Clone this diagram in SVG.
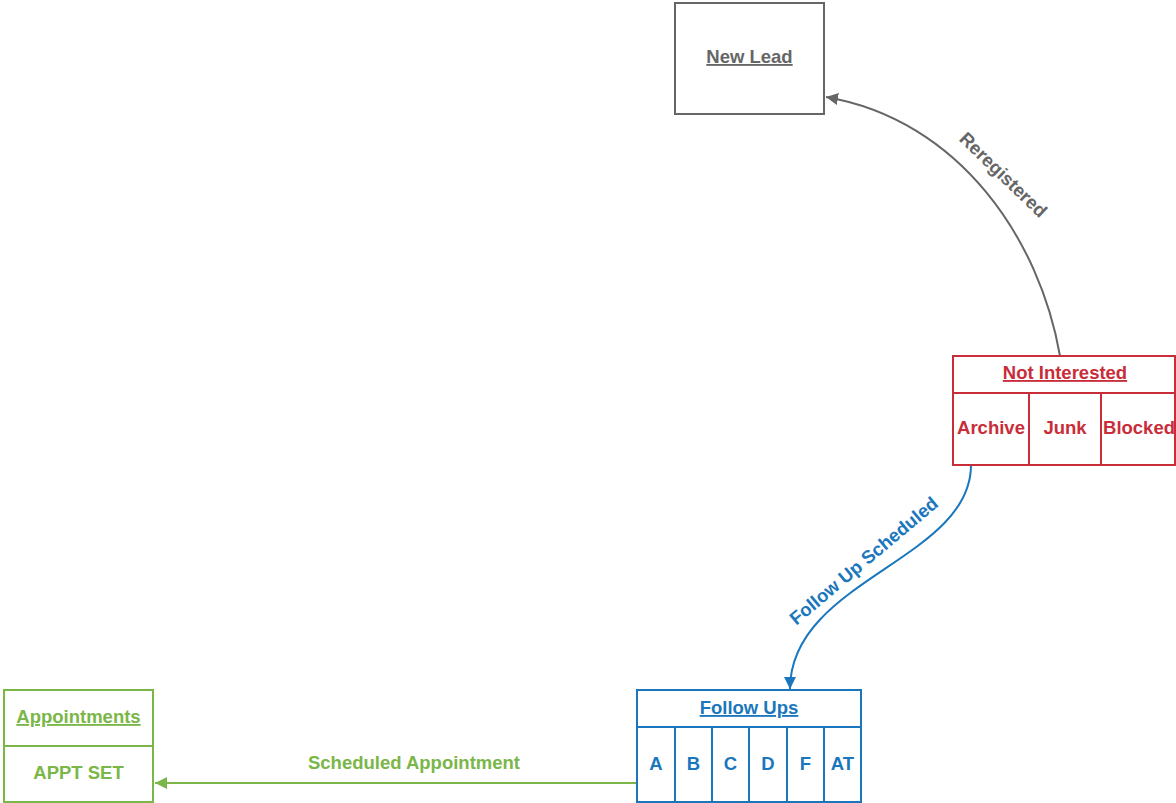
<svg xmlns="http://www.w3.org/2000/svg" width="1176" height="803" viewBox="0 0 1176 803">
<style>
text{font-family:"Liberation Sans",Arial,sans-serif;font-weight:bold;font-size:18.5px;text-anchor:middle}
.u{text-decoration:underline}
.box{fill:#fff;stroke-width:2}
.gray{fill:#666}.red{fill:#c92d39}.blue{fill:#1a77bd}.green{fill:#7ab648}
</style>
<defs>
<marker id="ag" viewBox="0 0 12 12" refX="12" refY="6" markerWidth="12" markerHeight="12" markerUnits="userSpaceOnUse" orient="auto"><path d="M0,0L12,6L0,12z" fill="#666"/></marker>
<marker id="ab" viewBox="0 0 12 12" refX="12" refY="6" markerWidth="12" markerHeight="12" markerUnits="userSpaceOnUse" orient="auto"><path d="M0,0L12,6L0,12z" fill="#1a77bd"/></marker>
<marker id="agr" viewBox="0 0 12 12" refX="12" refY="6" markerWidth="12" markerHeight="12" markerUnits="userSpaceOnUse" orient="auto"><path d="M0,0L12,6L0,12z" fill="#7ab648"/></marker>
</defs>
<rect width="1176" height="803" fill="#fff"/>
<g id="connectors" fill="none" stroke-width="2">
<path d="M1060,356 C1040,240 960,120 826,97" stroke="#666" marker-end="url(#ag)"/>
<path d="M971,465 C971,560 790,580 790,689" stroke="#1a77bd" marker-end="url(#ab)"/>
<path d="M637,783 L155,783" stroke="#7ab648" marker-end="url(#agr)"/>
<text class="gray" transform="translate(1003,175) rotate(44)" y="6">Reregistered</text>
<text class="blue" transform="translate(864,561) rotate(-40)" y="6">Follow Up Scheduled</text>
<text class="green" x="414" y="769">Scheduled Appointment</text>
</g>
<g id="new-lead">
<rect class="box" x="675" y="3" width="149" height="111" stroke="#666"/>
<text class="gray u" x="749.5" y="63">New Lead</text>
</g>
<g id="not-interested">
<rect class="box" x="953" y="356" width="222" height="109" stroke="#c92d39"/>
<path d="M953,393H1175M1029,393V465M1101,393V465" stroke="#c92d39" stroke-width="2" fill="none"/>
<text class="red u" x="1065" y="379">Not Interested</text>
<text class="red" x="991" y="434">Archive</text>
<text class="red" x="1065" y="434">Junk</text>
<text class="red" x="1139" y="434">Blocked</text>
</g>
<g id="follow-ups">
<rect class="box" x="637" y="690" width="224" height="112" stroke="#1a77bd"/>
<path d="M637,727H861M675,727V802M712,727V802M749,727V802M787,727V802M824,727V802" stroke="#1a77bd" stroke-width="2" fill="none"/>
<text class="blue u" x="749" y="714">Follow Ups</text>
<text class="blue" x="656" y="770">A</text>
<text class="blue" x="693.5" y="770">B</text>
<text class="blue" x="730.5" y="770">C</text>
<text class="blue" x="768" y="770">D</text>
<text class="blue" x="805.5" y="770">F</text>
<text class="blue" x="842.5" y="770">AT</text>
</g>
<g id="appointments">
<rect class="box" x="4" y="690" width="149" height="112" stroke="#7ab648"/>
<path d="M4,746H153" stroke="#7ab648" stroke-width="2" fill="none"/>
<text class="green u" x="78.5" y="723">Appointments</text>
<text class="green" x="78.5" y="779">APPT SET</text>
</g>
</svg>
